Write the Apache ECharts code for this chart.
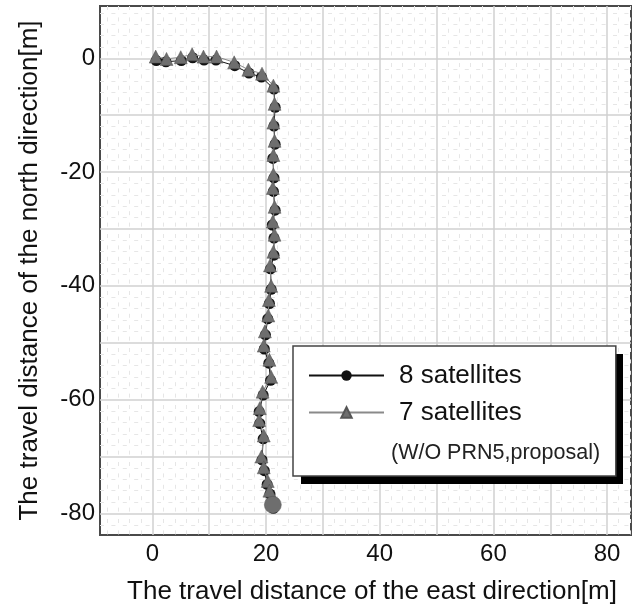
<!DOCTYPE html>
<html>
<head>
<meta charset="utf-8">
<script src="https://cdn.jsdelivr.net/npm/echarts@6/dist/echarts.min.js"></script>
<style>html,body{margin:0;padding:0;background:#fff;}#c{width:634px;height:612px;}</style>
</head>
<body>
<div id="c"></div>
<script>
// ---- data ----
const east8  = [0.7, 2.4, 5.1, 7.1, 9.1, 11.2, 14.5, 17.0, 19.2, 21.4, 21.6, 21.4, 21.6, 21.2, 21.4, 21.3, 21.6, 21.1, 21.4, 21.4, 20.8, 20.9, 20.6, 20.3, 19.9, 19.7, 20.5, 20.8, 19.5, 18.8, 18.9, 19.5, 19.3, 19.7, 20.2, 20.7, 21.3];
const north8 = [-0.4, -0.6, -0.4, 0.1, -0.3, -0.3, -1.3, -2.6, -3.3, -5.4, -8.6, -11.9, -15.1, -17.6, -21.0, -23.4, -26.7, -29.3, -31.6, -34.6, -37.0, -40.6, -43.1, -45.8, -48.6, -51.1, -53.6, -56.6, -59.2, -62.1, -64.2, -66.9, -70.6, -72.5, -74.9, -76.6, -79.1];
const east7  = [0.6, 2.5, 5.0, 7.0, 9.0, 11.3, 14.4, 16.9, 19.3, 21.3, 21.5, 21.3, 21.5, 21.3, 21.3, 21.2, 21.5, 21.2, 21.5, 21.3, 20.7, 20.9, 20.5, 20.4, 19.8, 19.6, 20.6, 20.9, 19.4, 18.9, 18.8, 19.6, 19.2, 19.6, 20.3, 20.6, 21.2];
const north7 = [0.3, -0.1, 0.2, 0.7, 0.3, 0.3, -0.7, -2.0, -2.7, -4.8, -8.0, -11.3, -14.5, -17.0, -20.4, -22.8, -26.1, -28.7, -31.0, -34.0, -36.4, -40.0, -42.5, -45.2, -48.0, -50.5, -53.0, -56.0, -58.6, -61.5, -63.6, -66.3, -70.0, -71.9, -74.3, -76.0, -78.5];

const seriesNames = ['8 satellites', '7 satellites'];
const noteText = '(W/O PRN5,proposal)';
const xName = 'The travel distance of the east direction[m]';
const yName = 'The travel distance of the north direction[m]';

const xTickLabels = [0, 20, 40, 60, 80];
const yTickLabels = [0, -20, -40, -60, -80];
const xMajor = [0, 10, 20, 30, 40, 50, 60, 70, 80];
const yMajor = [0, -10, -20, -30, -40, -50, -60, -70, -80];
const xMinor = [-8, -6, -4, -2, 2, 4, 6, 8, 12, 14, 16, 18, 22, 24, 26, 28, 32, 34, 36, 38, 42, 44, 46, 48, 52, 54, 56, 58, 62, 64, 66, 68, 72, 74, 76, 78, 82, 84];
const yMinor = [8, 6, 4, 2, -2, -4, -6, -8, -12, -14, -16, -18, -22, -24, -26, -28, -32, -34, -36, -38, -42, -44, -46, -48, -52, -54, -56, -58, -62, -64, -66, -68, -72, -74, -76, -78, -82];
const xRange = [-9.2, 84.2];
const yRange = [-83.8, 9.2];

// ---- chart ----
const FONT = '"Liberation Sans", Arial, sans-serif';
const chart = echarts.init(document.getElementById('c'), null, {renderer: 'canvas'});

const pts8 = east8.map((e, i) => [e, north8[i]]);
const pts7 = east7.map((e, i) => {
  if (i === east7.length - 1) return {value: [e, north7[i]], symbol: 'circle', symbolSize: 17};
  return [e, north7[i]];
});

const hiddenAxisBits = {
  axisLine: {show: false}, axisTick: {show: false}, axisLabel: {show: false}
};

chart.setOption({
  animation: false,
  backgroundColor: '#fff',
  grid: {left: 100, top: 6, right: 3, bottom: 77, show: true, borderColor: '#4a4a4a', borderWidth: 2, backgroundColor: 'transparent'},
  xAxis: [
    {
      type: 'value', min: xRange[0], max: xRange[1],
      name: xName, nameLocation: 'middle', nameGap: 44,
      nameTextStyle: {fontFamily: FONT, fontSize: 26, color: '#111', padding: [0, 0, 0, 13]},
      axisLine: {show: false},
      axisTick: {show: false, customValues: xMajor},
      axisLabel: {customValues: xTickLabels, fontFamily: FONT, fontSize: 24, color: '#111', margin: 7},
      splitLine: {show: true, lineStyle: {color: '#d0d0d0', width: 1.5}}
    },
    Object.assign({
      type: 'value', min: xRange[0], max: xRange[1], position: 'top',
      splitLine: {show: true, lineStyle: {color: '#e6e6e6', width: 1, type: [4, 7.4]}}
    }, hiddenAxisBits, {axisTick: {show: false, customValues: xMinor}})
  ],
  yAxis: [
    {
      type: 'value', min: yRange[0], max: yRange[1],
      name: yName, nameLocation: 'middle', nameGap: 57,
      nameTextStyle: {fontFamily: FONT, fontSize: 26, color: '#111'},
      axisLine: {show: false},
      axisTick: {show: false, customValues: yMajor},
      axisLabel: {customValues: yTickLabels, fontFamily: FONT, fontSize: 24, color: '#111', margin: 5},
      splitLine: {show: true, lineStyle: {color: '#d0d0d0', width: 1.5}}
    },
    Object.assign({
      type: 'value', min: yRange[0], max: yRange[1], position: 'right',
      splitLine: {show: true, lineStyle: {color: '#e6e6e6', width: 1, type: [4, 7.4]}}
    }, hiddenAxisBits, {axisTick: {show: false, customValues: yMinor}})
  ],
  legend: {
    left: 293, top: 346, orient: 'vertical',
    data: seriesNames,
    itemWidth: 75, itemHeight: 13, itemGap: 10,
    padding: [16, 94, 50, 15],
    backgroundColor: '#fff', borderColor: '#444', borderWidth: 1.5,
    textStyle: {fontFamily: FONT, fontSize: 26, color: '#111', lineHeight: 27, padding: [0, 0, 0, 10]},
    z: 5
  },
  graphic: [
    {type: 'rect', left: 301, top: 354, z: 4, shape: {width: 322, height: 130}, style: {fill: '#000'}},
    {type: 'text', left: 391, top: 442, z: 10,
     style: {text: noteText, font: '21.5px ' + FONT, fill: '#222'}}
  ],
  series: [
    {
      name: seriesNames[0], type: 'line', data: pts8,
      symbol: 'circle', symbolSize: 11, z: 2,
      lineStyle: {color: '#111', width: 1},
      itemStyle: {color: '#111'}
    },
    {
      name: seriesNames[1], type: 'line', data: pts7,
      symbol: 'triangle', symbolSize: 13, z: 3,
      lineStyle: {color: '#8a8a8a', width: 1},
      itemStyle: {color: '#6e6e6e', borderColor: '#555', borderWidth: 0.5}
    }
  ]
});
</script>
</body>
</html>
